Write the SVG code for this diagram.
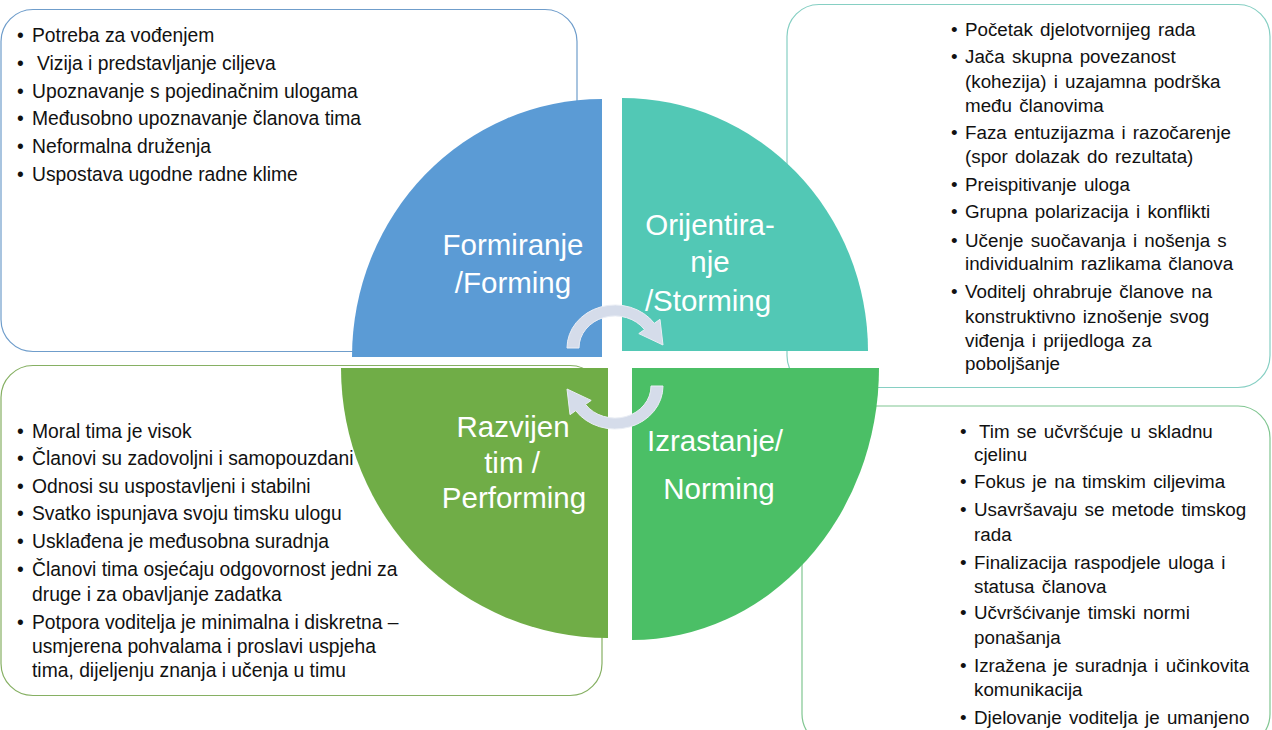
<svg xmlns="http://www.w3.org/2000/svg" width="1272" height="730" viewBox="0 0 1272 730">
<style>
.box{fill:#ffffff;stroke-width:1.2}
.t19{font-family:"Liberation Sans",Arial,sans-serif;font-size:19.3px;fill:#111}
.t18{font-family:"Liberation Sans",Arial,sans-serif;font-size:18.8px;fill:#111;word-spacing:2px}
.lbl{font-family:"Liberation Sans",Arial,sans-serif;font-size:29.5px;fill:#ffffff;text-anchor:middle}
.arr{fill:#d5dcea;stroke:#eaeef5;stroke-width:1}
</style>
<rect width="1272" height="730" fill="#ffffff"/>

<g id="box-forming">
<rect class="box" x="1" y="9.5" width="576" height="342" rx="32" stroke="#6f9dcb"/>
<text class="t19">
<tspan x="17" y="42">•</tspan><tspan x="32" y="42">Potreba za vođenjem</tspan>
<tspan x="17" y="70">•</tspan><tspan x="37" y="70">Vizija i predstavljanje ciljeva</tspan>
<tspan x="17" y="98">•</tspan><tspan x="32" y="98">Upoznavanje s pojedinačnim ulogama</tspan>
<tspan x="17" y="125">•</tspan><tspan x="32" y="125">Međusobno upoznavanje članova tima</tspan>
<tspan x="17" y="153">•</tspan><tspan x="32" y="153">Neformalna druženja</tspan>
<tspan x="17" y="181">•</tspan><tspan x="32" y="181">Uspostava ugodne radne klime</tspan>
</text>
</g>

<g id="box-storming">
<rect class="box" x="787" y="4.5" width="483" height="383" rx="32" stroke="#86cfc3"/>
<text class="t18">
<tspan x="951" y="36">•</tspan><tspan x="965" y="36">Početak djelotvornijeg rada</tspan>
<tspan x="951" y="63">•</tspan><tspan x="965" y="63">Jača skupna povezanost</tspan>
<tspan x="965" y="88">(kohezija) i uzajamna podrška</tspan>
<tspan x="965" y="112">među članovima</tspan>
<tspan x="951" y="139">•</tspan><tspan x="965" y="139">Faza entuzijazma i razočarenje</tspan>
<tspan x="965" y="163">(spor dolazak do rezultata)</tspan>
<tspan x="951" y="191">•</tspan><tspan x="965" y="191">Preispitivanje uloga</tspan>
<tspan x="951" y="218">•</tspan><tspan x="965" y="218">Grupna polarizacija i konflikti</tspan>
<tspan x="951" y="247">•</tspan><tspan x="965" y="247">Učenje suočavanja i nošenja s</tspan>
<tspan x="965" y="270">individualnim razlikama članova</tspan>
<tspan x="951" y="298">•</tspan><tspan x="965" y="298">Voditelj ohrabruje članove na</tspan>
<tspan x="965" y="323">konstruktivno iznošenje svog</tspan>
<tspan x="965" y="347">viđenja i prijedloga za</tspan>
<tspan x="965" y="370">poboljšanje</tspan>
</text>
</g>

<g id="box-performing">
<rect class="box" x="1" y="365.5" width="601" height="330" rx="32" stroke="#86b063"/>
<text class="t19">
<tspan x="17" y="438">•</tspan><tspan x="32" y="438">Moral tima je visok</tspan>
<tspan x="17" y="465">•</tspan><tspan x="32" y="465">Članovi su zadovoljni i samopouzdani</tspan>
<tspan x="17" y="493">•</tspan><tspan x="32" y="493">Odnosi su uspostavljeni i stabilni</tspan>
<tspan x="17" y="520">•</tspan><tspan x="32" y="520">Svatko ispunjava svoju timsku ulogu</tspan>
<tspan x="17" y="548">•</tspan><tspan x="32" y="548">Usklađena je međusobna suradnja</tspan>
<tspan x="17" y="576">•</tspan><tspan x="32" y="576">Članovi tima osjećaju odgovornost jedni za</tspan>
<tspan x="32" y="601">druge i za obavljanje zadatka</tspan>
<tspan x="17" y="629">•</tspan><tspan x="32" y="629">Potpora voditelja je minimalna i diskretna –</tspan>
<tspan x="32" y="653">usmjerena pohvalama i proslavi uspjeha</tspan>
<tspan x="32" y="677">tima, dijeljenju znanja i učenja u timu</tspan>
</text>
</g>

<g id="box-norming">
<rect class="box" x="802" y="406" width="468" height="340" rx="32" stroke="#80c691"/>
<text class="t18">
<tspan x="960" y="438">•</tspan><tspan x="979" y="438">Tim se učvršćuje u skladnu</tspan>
<tspan x="974" y="461">cjelinu</tspan>
<tspan x="960" y="488">•</tspan><tspan x="974" y="488">Fokus je na timskim ciljevima</tspan>
<tspan x="960" y="516">•</tspan><tspan x="974" y="516">Usavršavaju se metode timskog</tspan>
<tspan x="974" y="541">rada</tspan>
<tspan x="960" y="569">•</tspan><tspan x="974" y="569">Finalizacija raspodjele uloga i</tspan>
<tspan x="974" y="593">statusa članova</tspan>
<tspan x="960" y="619">•</tspan><tspan x="974" y="619">Učvršćivanje timski normi</tspan>
<tspan x="974" y="644">ponašanja</tspan>
<tspan x="960" y="672">•</tspan><tspan x="974" y="672">Izražena je suradnja i učinkovita</tspan>
<tspan x="974" y="696">komunikacija</tspan>
<tspan x="960" y="724">•</tspan><tspan x="974" y="724">Djelovanje voditelja je umanjeno</tspan>
</text>
</g>

<g id="q-forming">
<path d="M602,357 L602,99 A250,258 0 0 0 352,357 Z" fill="#5b9bd5"/>
<text class="lbl"><tspan x="513" y="255">Formiranje</tspan><tspan x="513" y="293">/Forming</tspan></text>
</g>
<g id="q-storming">
<path d="M622,351 L622,98 A246,253 0 0 1 868,351 Z" fill="#52c8b5"/>
<text class="lbl"><tspan x="710" y="235">Orijentira-</tspan><tspan x="710" y="272">nje</tspan><tspan x="708" y="311">/Storming</tspan></text>
</g>
<g id="q-performing">
<path d="M608,368 L341,368 A267,270 0 0 0 608,638 Z" fill="#70ad47"/>
<text class="lbl"><tspan x="513" y="437">Razvijen</tspan><tspan x="512" y="473">tim /</tspan><tspan x="514" y="508">Performing</tspan></text>
</g>
<g id="q-norming">
<path d="M632,368 L879,368 A247,272 0 0 1 632,640 Z" fill="#4bbf66"/>
<text class="lbl"><tspan x="715" y="451">Izrastanje/</tspan><tspan x="719" y="499">Norming</tspan></text>
</g>

<g id="connectors">
<path class="arr" d="M567,348 A48,43 0 0 1 654.3,323.3 L660,319.3 L663,345 L638.8,333.6 L644.5,329.6 A36,32 0 0 0 579,348 Z"/>
<path class="arr" transform="rotate(180 615 367)" d="M567,348 A48,43 0 0 1 654.3,323.3 L660,319.3 L663,345 L638.8,333.6 L644.5,329.6 A36,32 0 0 0 579,348 Z"/>
</g>
</svg>
